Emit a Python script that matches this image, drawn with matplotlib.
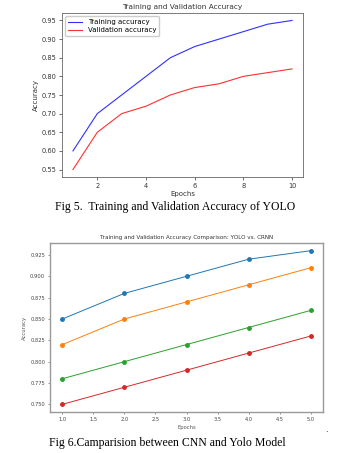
import matplotlib
matplotlib.use('Agg')
import matplotlib.pyplot as plt

# Fig 5 data
epochs_yolo = [1, 2, 3, 4, 5, 6, 7, 8, 9, 10]
train_acc = [0.60, 0.70, 0.75, 0.80, 0.85, 0.88, 0.90, 0.92, 0.94, 0.95]
val_acc = [0.55, 0.65, 0.70, 0.72, 0.75, 0.77, 0.78, 0.80, 0.81, 0.82]
top_xticks = [2, 4, 6, 8, 10]

# Fig 6 data
epochs_cmp = [1.0, 2.0, 3.0, 4.0, 5.0]
series_cmp = [
    [0.85, 0.88, 0.90, 0.92, 0.93],
    [0.82, 0.85, 0.87, 0.89, 0.91],
    [0.78, 0.80, 0.82, 0.84, 0.86],
    [0.75, 0.77, 0.79, 0.81, 0.83],
]
colors_cmp = ['#1f77b4', '#ff7f0e', '#2ca02c', '#d62728']

W, H = 359, 453
fig = plt.figure(figsize=(W / 100, H / 100), dpi=100)
fig.patch.set_facecolor('white')

def px_axes(l, t, r, b):
    return fig.add_axes([l / W, 1 - b / H, (r - l) / W, (b - t) / H])

# top chart
ax1 = px_axes(62, 13, 303, 177)
ax1.plot(epochs_yolo, train_acc, color='#3030ff', lw=0.8, label='Training accuracy')
ax1.plot(epochs_yolo, val_acc, color='#ff3030', lw=0.8, label='Validation accuracy')
ax1.set_xticks(top_xticks)
ax1.set_title('Training and Validation Accuracy', fontsize=5.3, pad=3, color='#333333')
ax1.set_xlabel('Epochs', fontsize=5, labelpad=2, color='#333333')
ax1.set_ylabel('Accuracy', fontsize=5, labelpad=2, color='#333333')
ax1.tick_params(labelsize=4.8, length=2, width=0.5, pad=2, colors='#333333')
for s in ax1.spines.values():
    s.set_color('#666666')
    s.set_linewidth(0.6)
ax1.legend(loc='upper left', fontsize=5, handlelength=2, borderpad=0.4,
           labelspacing=0.3, framealpha=1, edgecolor='#cccccc', fancybox=True)

fig.text(175 / W, 1 - 207 / H, 'Fig 5.  Training and Validation Accuracy of YOLO',
         ha='center', va='center', fontsize=8.5, family='Liberation Serif')

# bottom chart
ax2 = px_axes(50, 243, 323, 412)
for vals, c in zip(series_cmp, colors_cmp):
    ax2.plot(epochs_cmp, vals, color=c, lw=0.7, marker='o', markersize=2.5)
ax2.set_title('Training and Validation Accuracy Comparison: YOLO vs. CRNN',
              fontsize=4.1, pad=3, color='#333333')
ax2.set_xlabel('Epochs', fontsize=3.8, labelpad=2, color='#555555')
ax2.set_ylabel('Accuracy', fontsize=3.8, labelpad=2, color='#555555')
ax2.tick_params(labelsize=3.7, length=1.5, width=0.4, pad=2, colors='#444444')
ax2.yaxis.set_major_formatter(plt.FormatStrFormatter('%.3f'))
for s in ax2.spines.values():
    s.set_color('#999999')
    s.set_linewidth(1.0)

fig.text(49 / W, 1 - 443 / H, 'Fig 6.Camparision between CNN and Yolo Model',
         ha='left', va='center', fontsize=8.5, family='Liberation Serif')
fig.text(326 / W, 1 - 430 / H, '.', ha='center', va='center', fontsize=6)

fig.savefig('out.png', dpi=100)
